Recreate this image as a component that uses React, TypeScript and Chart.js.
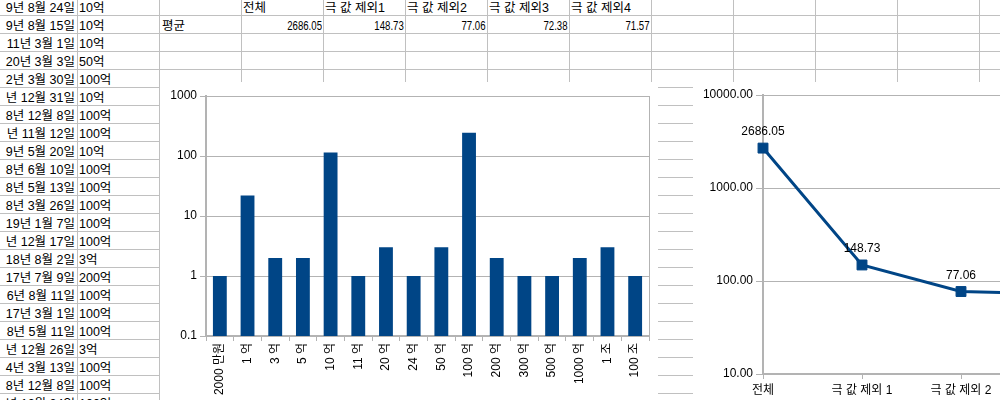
import React, { useEffect, useRef } from "react";
import { Chart, registerables } from "chart.js";

Chart.register(...registerables);

// ---- chart data ----
const barCategories = [
  "2000 만원", "1 억", "3 억", "5 억", "10 억", "11 억", "20 억", "24 억",
  "50 억", "100 억", "200 억", "300 억", "500 억", "1000 억", "1 조", "100 조",
];
const barValues = [1, 22, 2, 2, 114, 1, 3, 1, 3, 245, 2, 1, 1, 2, 3, 1];
const barTicks = [0.1, 1, 10, 100, 1000];

const lineCategories = ["전체", "극 값 제외 1", "극 값 제외 2", "극 값 제외 3", "극 값 제외 4"];
const lineValues = [2686.05, 148.73, 77.06, 72.38, 71.57];
const lineTicks = [10, 100, 1000, 10000];

// ---- sheet text ----
const tableHeaders = ["전체", "극 값 제외1", "극 값 제외2", "극 값 제외3", "극 값 제외4"];
const tableRowLabel = "평균";
const tableAverages = ["2686.05", "148.73", "77.06", "72.38", "71.57"];
const dateCells = [
  "9년 8월 24일", "9년 8월 15일", "11년 3월 1일", "20년 3월 3일", "2년 3월 30일",
  "년 12월 31일", "8년 12월 8일", "년 11월 12일", "9년 5월 20일", "8년 6월 10일",
  "8년 5월 13일", "8년 3월 26일", "19년 1월 7일", "년 12월 17일", "18년 8월 2일",
  "17년 7월 9일", "6년 8월 11일", "17년 3월 1일", "8년 5월 11일", "년 12월 26일",
  "4년 3월 13일", "8년 12월 8일", "년 12월 24일",
];
const amountCells = [
  "10억", "10억", "10억", "50억", "100억", "10억", "100억", "100억", "10억", "100억",
  "100억", "100억", "100억", "100억", "3억", "200억", "100억", "100억", "100억", "3억",
  "100억", "100억", "100억",
];

const BLUE = "#004586";
const AXIS = "#b3b3b3";
const CHART_FONT = '"Liberation Sans", "Noto Sans CJK KR", sans-serif';
const CELL_FONT = '"Liberation Sans", "Noto Sans CJK KR", sans-serif';

const plotBorder = {
  id: "plotBorder",
  afterDraw(chart: any) {
    const { ctx, chartArea: a } = chart;
    ctx.save();
    ctx.strokeStyle = AXIS;
    ctx.lineWidth = 1;
    ctx.beginPath();
    ctx.moveTo(Math.round(a.right) + 0.5, a.top);
    ctx.lineTo(Math.round(a.right) + 0.5, a.bottom);
    ctx.stroke();
    ctx.restore();
  },
};

const valueLabels = {
  id: "valueLabels",
  afterDatasetsDraw(chart: any) {
    const ctx = chart.ctx;
    ctx.save();
    ctx.font = "12px " + CHART_FONT;
    ctx.fillStyle = "#000";
    ctx.textAlign = "center";
    ctx.textBaseline = "middle";
    chart.data.datasets.forEach((ds: any, i: number) => {
      const meta = chart.getDatasetMeta(i);
      meta.data.forEach((pt: any, j: number) => {
        ctx.fillText(Number(ds.data[j]).toFixed(2), pt.x, pt.y - 16);
      });
    });
    ctx.restore();
  },
};

const COLS = Array.from({ length: 12 }, (_, k) => 77 + 82 * k);
const ROWS = Array.from({ length: 22 }, (_, k) => 15 + 18 * k);

export default function App() {
  const barRef = useRef<HTMLCanvasElement>(null);
  const lineRef = useRef<HTMLCanvasElement>(null);

  useEffect(() => {
    Chart.defaults.font.family = CHART_FONT;
    Chart.defaults.font.size = 12;
    Chart.defaults.color = "#000";

    const bar = new Chart(barRef.current!, {
      type: "bar",
      data: {
        labels: barCategories,
        datasets: [
          {
            data: barValues,
            backgroundColor: BLUE,
            borderWidth: 0,
            barPercentage: 0.5,
            categoryPercentage: 1,
          },
        ],
      },
      options: {
        responsive: false,
        animation: false,
        devicePixelRatio: 1,
        layout: { padding: { top: 14, right: 9, left: 0, bottom: 0 } },
        plugins: { legend: { display: false }, tooltip: { enabled: false } },
        scales: {
          x: {
            type: "category",
            offset: true,
            grid: { offset: true, drawOnChartArea: false, tickLength: 5, color: AXIS },
            border: { color: AXIS, width: 2 },
            ticks: { minRotation: 90, maxRotation: 90, autoSkip: false, padding: 2, color: "#000" },
            afterFit: (s: any) => {
              s.height = 86;
            },
          },
          y: {
            type: "logarithmic",
            min: 0.1,
            max: 1000,
            grid: { color: AXIS, tickLength: 6 },
            border: { color: AXIS, width: 2 },
            ticks: {
              padding: 3,
              color: "#000",
              callback: (v: any) => String(v),
            },
            afterBuildTicks: (s: any) => {
              s.ticks = barTicks.map((v) => ({ value: v }));
            },
            afterFit: (s: any) => {
              s.width = 46;
            },
          },
        },
      } as any,
      plugins: [plotBorder],
    });

    const line = new Chart(lineRef.current!, {
      type: "line",
      data: {
        labels: lineCategories,
        datasets: [
          {
            data: lineValues,
            borderColor: BLUE,
            borderWidth: 3,
            backgroundColor: BLUE,
            pointStyle: "rect",
            pointRadius: 7,
            pointBackgroundColor: BLUE,
            pointBorderColor: BLUE,
            pointBorderWidth: 1,
            tension: 0,
            clip: false,
          } as any,
        ],
      },
      options: {
        responsive: false,
        animation: false,
        devicePixelRatio: 1,
        layout: { padding: { top: 13, right: 55, left: 0, bottom: 0 } },
        plugins: { legend: { display: false }, tooltip: { enabled: false } },
        scales: {
          x: {
            type: "category",
            offset: false,
            grid: { drawOnChartArea: false, tickLength: 5, color: AXIS },
            border: { color: AXIS, width: 2 },
            ticks: { autoSkip: false, maxRotation: 0, padding: 4, color: "#000" },
            afterFit: (s: any) => {
              s.height = 38;
            },
          },
          y: {
            type: "logarithmic",
            min: 10,
            max: 10000,
            grid: { color: AXIS, tickLength: 7 },
            border: { color: AXIS, width: 2 },
            ticks: {
              padding: 3,
              color: "#000",
              callback: (v: any) => Number(v).toFixed(2),
            },
            afterBuildTicks: (s: any) => {
              s.ticks = lineTicks.map((v) => ({ value: v }));
            },
            afterFit: (s: any) => {
              s.width = 70;
            },
          },
        },
      } as any,
      plugins: [plotBorder, valueLabels],
    });

    return () => {
      bar.destroy();
      line.destroy();
    };
  }, []);

  const cellText: React.CSSProperties = {
    position: "absolute",
    height: 18,
    lineHeight: "18px",
    fontSize: 12.5,
    fontFamily: CELL_FONT,
    whiteSpace: "nowrap",
    color: "#000",
  };

  return (
    <div
      style={{
        position: "fixed",
        left: 0,
        top: 0,
        width: 1000,
        height: 400,
        overflow: "hidden",
        background: "#fff",
      }}
    >
      {COLS.map((x, i) => (
        <div key={"c" + i} style={{ position: "absolute", left: x, top: 0, width: 1, height: 400, background: "#c0c0c0" }} />
      ))}
      {ROWS.map((y, i) => (
        <div key={"r" + i} style={{ position: "absolute", left: 0, top: y, width: 1000, height: 1, background: "#c0c0c0" }} />
      ))}
      {dateCells.map((t, k) => (
        <div key={"d" + k} style={{ ...cellText, left: -200, width: 275, top: 18 * k - 1, textAlign: "right" }}>
          {t}
        </div>
      ))}
      {amountCells.map((t, k) => (
        <div key={"a" + k} style={{ ...cellText, left: 79, width: 78, top: 18 * k - 1 }}>
          {t}
        </div>
      ))}
      {tableHeaders.map((t, i) => (
        <div key={"h" + i} style={{ ...cellText, left: 241 + 82 * i + 2, width: 78, top: -1 }}>
          {t}
        </div>
      ))}
      <div style={{ ...cellText, left: 162, width: 78, top: 17 }}>{tableRowLabel}</div>
      {tableAverages.map((t, i) => (
        <div key={"v" + i} style={{ ...cellText, fontSize: 13, left: 241 + 82 * i + 1, width: 80, top: 17, textAlign: "right" }}>
          <span style={{ display: "inline-block", transform: "scaleX(0.74)", transformOrigin: "right center" }}>{t}</span>
        </div>
      ))}
      <div style={{ position: "absolute", left: 160, top: 82, width: 498, height: 340, background: "#fff" }}>
        <canvas ref={barRef} width={498} height={340} style={{ width: 498, height: 340, display: "block" }} />
      </div>
      <div style={{ position: "absolute", left: 693, top: 82, width: 521, height: 330, background: "#fff" }}>
        <canvas ref={lineRef} width={521} height={330} style={{ width: 521, height: 330, display: "block" }} />
      </div>
    </div>
  );
}
